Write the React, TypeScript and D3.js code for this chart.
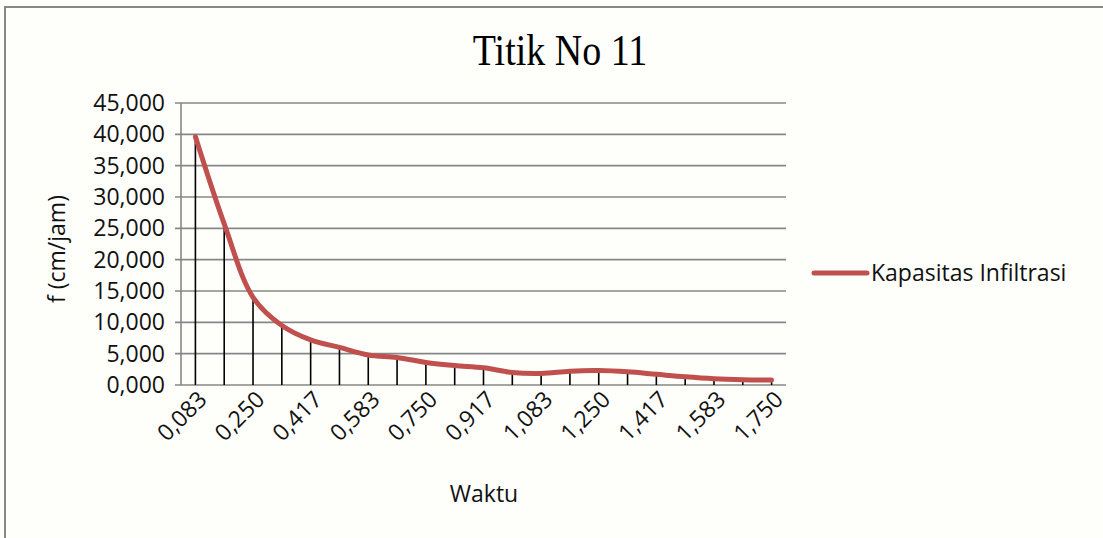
import React from "react";
import * as d3 from "d3";

const times = ["0,083","0,167","0,250","0,333","0,417","0,500","0,583","0,667","0,750","0,833","0,917","1,000","1,083","1,167","1,250","1,333","1,417","1,500","1,583","1,667","1,750"];
const infiltrasi = [39.6, 25.7, 14.0, 9.5, 7.2, 6.0, 4.8, 4.4, 3.6, 3.1, 2.75, 2.0, 1.85, 2.2, 2.3, 2.1, 1.7, 1.3, 1.0, 0.85, 0.8];
const yTicks = [0, 5, 10, 15, 20, 25, 30, 35, 40, 45];
const seriesName = "Kapasitas Infiltrasi";
const title = "Titik No 11";
const xTitle = "Waktu";
const yTitle = "f (cm/jam)";

const W = 1103, H = 538;
const left = 181, right = 786, top = 103, bottom = 385;
const grid = "#878787";
const red = "#C0504D";
const sans = "'Open Sans', sans-serif";
const fs = 23;

export default function App() {
  const x = d3.scaleBand<number>().domain(d3.range(times.length)).range([left, right]).padding(0);
  const y = d3.scaleLinear().domain([0, 45]).range([bottom, top]);
  const cx = (i: number) => (x(i) as number) + x.bandwidth() / 2;
  const line = d3.line<number>().x((_, i) => cx(i)).y((v) => y(v)).curve(d3.curveCatmullRom.alpha(0.5));
  const fmt = (v: number) => d3.format(".3f")(v).replace(".", ",");
  return (
    <svg width={W} height={H} style={{ position: "absolute", left: 0, top: 0, background: "#fefefb" }}>
      <rect x={5} y={7} width={W + 20} height={H + 20} fill="#fefefb" stroke={grid} strokeWidth={2} />
      <text transform="translate(560,65) scale(1,1.18)" textAnchor="middle" fontFamily="'Liberation Serif', serif" fontSize={38}>{title}</text>
      {yTicks.map((t) => (
        <g key={t}>
          <line x1={left - 6} x2={right} y1={y(t)} y2={y(t)} stroke={grid} strokeWidth={1.6} />
          <text x={165} y={y(t) + 8} textAnchor="end" fontFamily={sans} fontSize={fs} fill="#111">{fmt(t)}</text>
        </g>
      ))}
      <line x1={left} x2={left} y1={top} y2={bottom} stroke={grid} strokeWidth={1.6} />
      {infiltrasi.map((v, i) => (
        <line key={i} x1={cx(i)} x2={cx(i)} y1={y(v)} y2={bottom} stroke="#000" strokeWidth={1.6} />
      ))}
      <path d={line(infiltrasi) || ""} fill="none" stroke={red} strokeWidth={5} strokeLinejoin="round" strokeLinecap="round" />
      {times.map((t, i) => i % 2 === 0 ? (
        <text key={t} transform={`translate(${cx(i) + 13},${bottom + 16}) rotate(-45)`} textAnchor="end" fontFamily={sans} fontSize={fs} fill="#111">{t}</text>
      ) : null)}
      <text x={484} y={502} textAnchor="middle" fontFamily={sans} fontSize={fs} fill="#111">{xTitle}</text>
      <text transform={`translate(65,249) rotate(-90)`} textAnchor="middle" fontFamily={sans} fontSize={fs} fill="#111">{yTitle}</text>
      <line x1={814} x2={867} y1={273} y2={273} stroke={red} strokeWidth={5} strokeLinecap="round" />
      <text x={871} y={281} fontFamily={sans} fontSize={fs} fill="#111">{seriesName}</text>
    </svg>
  );
}
